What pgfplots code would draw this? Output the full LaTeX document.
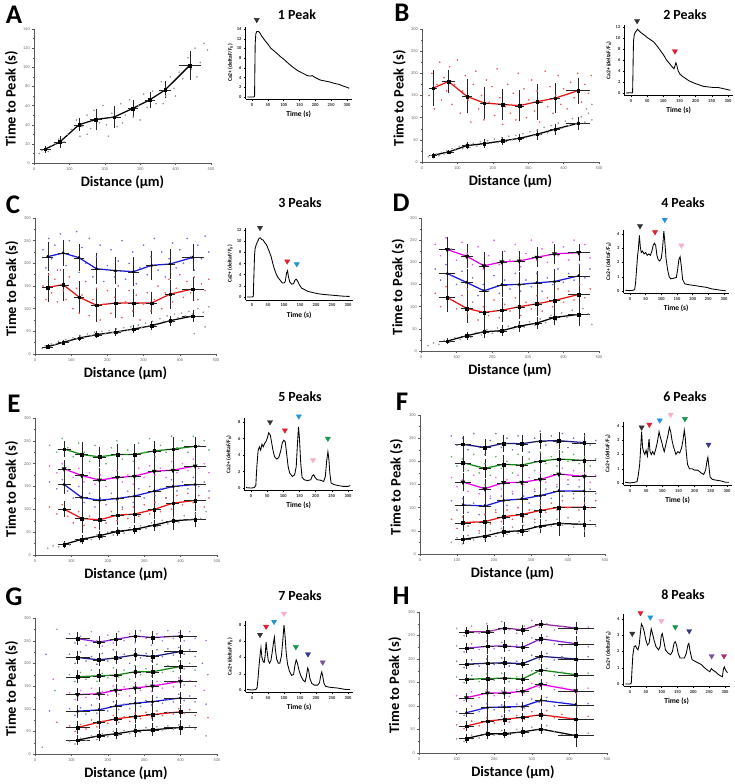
\documentclass[border=0pt]{standalone}
\usepackage{fontspec}
\setmainfont{Carlito}
\usepackage{pgfplots}
\pgfplotsset{compat=1.18}
\definecolor{cred}{RGB}{230,20,20}
\definecolor{cblue}{RGB}{25,25,215}
\definecolor{cmag}{RGB}{230,0,230}
\definecolor{cgreen}{RGB}{20,135,20}
\definecolor{cnavy}{RGB}{25,25,125}
\definecolor{cpurple}{RGB}{135,35,205}
\definecolor{cplum}{RGB}{140,40,150}
\definecolor{ablack}{RGB}{50,50,50}
\definecolor{ared}{RGB}{225,30,45}
\definecolor{ablue}{RGB}{30,150,215}
\definecolor{apink}{RGB}{245,175,200}
\definecolor{agreen}{RGB}{20,150,75}
\definecolor{anavy}{RGB}{55,55,135}
\definecolor{apurple}{RGB}{120,80,155}
\definecolor{amag}{RGB}{170,40,120}

\pgfplotsset{
  mainax/.style={scale only axis, anchor=south west, clip=false,
    xmin=0, xmax=500, ymin=0, ymax=300, xtick={0,100,...,500}, ytick={0,50,...,300},
    axis lines=left, axis line style={-, black!65, line width=0.45bp},
    minor x tick num=1, minor y tick num=1, tick align=outside,
    major tick length=1.6bp, minor tick length=0.9bp,
    tick style={black!65, line width=0.35bp},
    tick label style={font=\fontsize{4.3}{5}\selectfont, text=black!60},
    xticklabel style={yshift=0.8bp}, yticklabel style={xshift=0.8bp},
    /pgf/number format/assume math mode=true,
    xlabel={Distance (µm)}, ylabel={Time to Peak (s)},
    label style={font=\bfseries\fontsize{14.5}{16}\selectfont},
    xlabel style={at={(axis description cs:0.5,0)}, anchor=center, yshift=-19bp},
    ylabel style={at={(axis description cs:-0.128,0.48)}, anchor=center}},
  inset/.style={scale only axis, anchor=south west, clip=false,
    xmin=-20, xmax=315, xtick={0,50,...,300},
    axis lines=left, axis line style={-, black, line width=0.6bp},
    tick align=outside, major tick length=1.5bp,
    tick style={black, line width=0.4bp},
    tick label style={font=\bfseries\fontsize{4.5}{5}\selectfont, text=black!85},
    xticklabel style={yshift=0.8bp}, yticklabel style={xshift=0.8bp},
    /pgf/number format/assume math mode=true,
    xlabel={Time (s)}, ylabel={Ca2+ (deltaF/F\textsubscript{0})},
    xlabel style={font=\bfseries\fontsize{7.5}{8}\selectfont, at={(axis description cs:0.5,0)}, anchor=center, yshift=-15bp},
    ylabel style={font=\bfseries\fontsize{5.6}{6}\selectfont, at={(axis description cs:-0.145,0.5)}, anchor=center}},
  ms/.style={line width=1.25bp, mark=square*, mark size=1.3bp,
    mark options={solid, fill=black, draw=black, line width=0.3bp},
    error bars/y dir=both, error bars/y explicit,
    error bars/x dir=both, error bars/x explicit,
    error bars/error bar style={black!85, line width=0.28bp},
    error bars/error mark options={black!85, mark size=1.0bp, line width=0.28bp}},
  tri/.style={mark=triangle*, mark size=1.6bp},
  dtri/.style={mark=triangle*, mark size=1.6bp, mark options={solid, fill=black, draw=black, rotate=180}},
  sc/.style={only marks, mark=*, mark size=0.6bp, forget plot},
  trace/.style={black, line width=0.85bp},
  arr/.style={only marks, mark=triangle*, mark size=3bp, mark options={rotate=180, fill=#1, draw=#1}, forget plot}
}

\begin{document}
\begin{tikzpicture}
\path[use as bounding box] (0,0) rectangle (735bp,-784bp);

% ---------------- panel letters and titles
\begin{scope}[every node/.style={font=\bfseries\fontsize{27}{27}\selectfont}]
\node at (14bp,-15bp) {A};
\node at (402bp,-13bp) {B};
\node at (13bp,-205bp) {C};
\node at (401bp,-203bp) {D};
\node at (14bp,-404bp) {E};
\node at (402bp,-402bp) {F};
\node at (14bp,-597bp) {G};
\node at (401bp,-596bp) {H};
\end{scope}
\begin{scope}[every node/.style={font=\bfseries\fontsize{14}{14}\selectfont}]
\node at (297bp,-15bp) {1 Peak};
\node at (685bp,-15bp) {2 Peaks};
\node at (300bp,-203bp) {3 Peaks};
\node at (683bp,-203bp) {4 Peaks};
\node at (300bp,-397bp) {5 Peaks};
\node at (685bp,-397bp) {6 Peaks};
\node at (300bp,-596bp) {7 Peaks};
\node at (683bp,-595bp) {8 Peaks};
\end{scope}

% ================= A
\begin{axis}[mainax, at={(34bp,-163bp)}, width=177bp, height=134bp, ymax=140, ytick={0,20,...,140}]
\addplot[sc, black!40] coordinates {(15,10) (22,13) (40,12) (48,18) (60,20) (70,25) (85,22) (95,30) (105,35) (120,45) (135,38) (150,50) (160,36) (170,55) (185,42) (195,60) (205,40) (220,52) (235,38) (245,62) (258,50) (270,66) (280,48) (295,60) (310,72) (320,58) (335,75) (345,62) (360,85) (372,70) (385,90) (395,78) (410,95) (420,88) (435,110) (445,98) (455,120) (470,105) (480,125) (490,118) (210,28) (150,30) (300,45) (365,62) (130,28) (250,42) (400,70) (460,90)};
\addplot[black, ms] coordinates {(32,14.5) +- (12,2.5) (73,22) +- (14,5) (127,40) +- (12,6) (175,45.5) +- (14,9.5) (226,48) +- (16,10) (279,57) +- (12,8) (327,66) +- (12,7) (371,76.5) +- (14,8) (440,102) +- (28,14)};
\end{axis}
\begin{axis}[inset, at={(245.7bp,-99.4bp)}, width=106bp, height=72.8bp, ymin=-0.5, ymax=14.5, ytick={0,2,...,14}]
\addplot[trace] coordinates {(-15,0) (0,0) (5,0) (8,0.1) (9,6) (10,11) (12,13) (15,13.5) (20,13.5) (25,13.2) (30,12.6) (40,11.7) (50,10.9) (60,10.0) (75,9.2) (90,8.3) (100,7.8) (115,6.9) (130,6.1) (145,5.4) (160,4.9) (175,4.4) (185,4.3) (190,4.4) (200,4.0) (215,3.5) (230,3.3) (245,3.1) (260,2.8) (275,2.6) (290,2.2) (300,2.0) (307,1.8)};
\addplot[arr=ablack] coordinates {(15,15.9)};
\end{axis}

% ================= B
\begin{axis}[mainax, at={(422bp,-162bp)}, width=177bp, height=133bp]
\addplot[sc, cred!70] coordinates {(20,150) (28,200) (35,120) (42,175) (50,225) (55,140) (62,190) (70,160) (78,215) (85,130) (92,175) (100,230) (108,110) (115,160) (122,195) (130,140) (138,90) (145,175) (152,205) (160,120) (168,150) (175,95) (182,185) (190,135) (198,170) (205,105) (212,210) (220,145) (228,85) (235,125) (242,175) (250,110) (258,155) (265,95) (272,200) (280,130) (288,165) (295,100) (302,140) (310,185) (318,115) (325,160) (332,90) (340,135) (348,205) (355,125) (362,170) (370,110) (378,150) (385,195) (392,130) (400,165) (410,120) (420,180) (430,145) (440,200) (450,135) (460,175) (470,155) (478,195)};
\addplot[sc, black!40] coordinates {(18,12) (25,15) (32,10) (40,18) (48,14) (55,22) (62,18) (70,25) (78,20) (85,30) (95,27) (105,35) (115,30) (125,40) (135,33) (145,42) (155,36) (165,46) (175,38) (185,48) (195,42) (205,52) (215,44) (225,55) (235,47) (245,58) (255,50) (265,60) (275,52) (285,64) (295,55) (305,68) (315,60) (325,72) (335,62) (345,78) (355,66) (365,82) (375,70) (385,88) (395,76) (405,92) (415,82) (425,98) (435,85) (450,102) (460,90) (470,110) (480,95) (465,120) (480,130)};
\addplot[cred, ms] coordinates {(31,166.5) +- (8,38) (75,181.6) +- (15,24) (127,148) +- (10,36) (176,133) +- (10,33) (227,130) +- (10,32) (275,127) +- (10,33) (325,136) +- (10,38) (376,144) +- (12,31) (441,161) +- (30,27)};
\addplot[black, ms] coordinates {(31,15) +- (8,3) (75,22.6) +- (12,3) (127,37) +- (10,6) (176,41.5) +- (10,7) (227,47.5) +- (10,7) (275,53.5) +- (10,7) (325,62.5) +- (10,10) (376,74) +- (12,10) (441,87.4) +- (30,12)};
\end{axis}
\begin{axis}[inset, at={(624.5bp,-95.75bp)}, width=108.3bp, height=70.4bp, ymin=-0.5, ymax=12.3, ytick={0,2,...,12}]
\addplot[trace] coordinates {(-15,0) (0,0.05) (3,0) (5,0.1) (6,3) (7,7) (8,9.5) (10,10.5) (13,11) (17,11.3) (20,11.6) (25,11.3) (30,11.0) (40,10.6) (50,10.1) (60,9.7) (70,9.3) (80,8.6) (90,7.8) (100,7.0) (110,6.0) (120,5.3) (128,4.7) (133,4.4) (136,4.9) (139,5.5) (142,5.0) (146,4.0) (152,3.4) (160,3.0) (170,2.6) (180,2.2) (195,1.8) (210,1.5) (225,1.2) (240,1.1) (255,1.0) (270,1.0) (285,0.8) (300,0.6) (308,0.5)};
\addplot[arr=ablack] coordinates {(19,13.1)};
\addplot[arr=ared] coordinates {(136,7.6)};
\end{axis}

% ================= C
\begin{axis}[mainax, at={(35bp,-354bp)}, width=181bp, height=136bp]
\addplot[sc, cblue!65] coordinates {(22,230) (30,190) (38,255) (46,210) (55,240) (62,185) (70,265) (78,225) (86,195) (95,250) (105,215) (115,270) (122,180) (130,235) (140,200) (150,255) (160,170) (170,215) (180,240) (190,160) (200,195) (210,230) (220,170) (230,205) (240,250) (250,165) (260,200) (270,225) (280,155) (290,190) (300,240) (310,175) (320,215) (330,255) (340,185) (350,225) (360,170) (370,210) (380,245) (390,190) (400,230) (410,200) (420,255) (430,215) (440,185) (450,240) (460,210) (470,260) (480,225)};
\addplot[sc, cred!70] coordinates {(22,150) (30,120) (38,175) (46,135) (55,165) (62,115) (70,185) (78,140) (86,120) (95,170) (105,100) (115,145) (122,90) (130,130) (140,160) (150,85) (160,120) (170,145) (180,75) (190,110) (200,140) (210,90) (220,125) (230,150) (240,80) (250,115) (260,140) (270,95) (280,130) (290,75) (300,110) (310,135) (320,95) (330,120) (340,150) (350,100) (360,135) (370,165) (380,115) (390,145) (400,175) (410,125) (420,160) (430,135) (440,170) (450,120) (460,155) (470,140) (480,165)};
\addplot[sc, black!40] coordinates {(20,12) (28,18) (36,14) (45,22) (55,20) (65,28) (75,24) (85,32) (95,28) (105,36) (115,33) (125,40) (135,36) (145,44) (155,40) (165,48) (175,42) (185,50) (195,45) (205,52) (215,47) (225,55) (235,50) (245,58) (255,53) (265,60) (275,56) (285,64) (295,59) (305,68) (315,63) (325,72) (335,67) (345,78) (355,72) (365,84) (375,76) (385,88) (395,80) (405,90) (415,84) (425,94) (435,88) (450,100) (465,92) (480,104) (470,60) (440,45)};
\addplot[cblue, ms, tri] coordinates {(35,214.7) +- (12,30) (78,222.8) +- (12,27) (121.5,212.5) +- (12,27) (170,188) +- (12,32) (222,184) +- (12,28) (272,181.6) +- (12,30) (322,195.6) +- (12,30) (373,198.5) +- (12,30) (435.5,213) +- (28,27)};
\addplot[cred, ms] coordinates {(35,147) +- (12,30) (78,153) +- (12,33) (121.5,125.7) +- (12,33) (170,107.4) +- (12,35) (222,112.5) +- (12,30) (272,112.5) +- (12,28) (322,112.5) +- (12,23) (373,132) +- (12,30) (435.5,143.4) +- (28,24)};
\addplot[black, ms] coordinates {(35,16) +- (12,3) (78,25.7) +- (12,4) (121.5,35.3) +- (12,5) (170,42.6) +- (12,6) (222,48.5) +- (12,6) (272,55) +- (12,7) (322,62.5) +- (12,8) (373,73.5) +- (12,9) (435.5,83.8) +- (28,11)};
\end{axis}
\begin{axis}[inset, at={(245.6bp,-299.8bp)}, width=107.2bp, height=71.5bp, ymin=-0.5, ymax=12.3, ytick={0,2,...,12}]
\addplot[trace] coordinates {(-15,0) (0,0) (4,0.1) (6,4) (8,7.5) (10,8.8) (14,9.5) (18,10) (22,10.5) (26,10.6) (30,10.3) (35,10.2) (40,9.7) (45,9.4) (50,8.7) (55,8.0) (60,7.2) (65,6.0) (70,5.0) (75,4.2) (80,3.6) (88,3.0) (95,2.5) (100,2.5) (104,2.8) (108,4.3) (111,4.7) (114,3.6) (118,2.7) (124,2.3) (130,2.4) (134,3.0) (138,3.2) (142,2.9) (148,2.2) (155,1.6) (165,1.3) (175,1.0) (190,0.8) (205,0.6) (225,0.45) (245,0.35) (265,0.25) (285,0.15) (305,0.1)};
\addplot[arr=ablack] coordinates {(25,12.4)};
\addplot[arr=ared] coordinates {(110,6.4)};
\addplot[arr=ablue] coordinates {(140,5.9)};
\end{axis}

% ================= D
\begin{axis}[mainax, at={(421bp,-351bp)}, width=178bp, height=133bp]
\addplot[sc, cmag!65] coordinates {(40,240) (55,215) (70,255) (85,230) (100,205) (115,245) (130,220) (145,195) (160,235) (175,185) (190,215) (205,250) (220,195) (235,225) (250,205) (265,240) (280,190) (295,220) (310,250) (325,205) (340,230) (355,200) (370,245) (385,215) (400,235) (415,205) (430,250) (445,220) (460,240) (475,210)};
\addplot[sc, cblue!65] coordinates {(40,185) (55,160) (70,195) (85,170) (100,150) (115,180) (130,140) (145,165) (160,125) (175,150) (190,135) (205,170) (220,130) (235,160) (250,140) (265,175) (280,135) (295,160) (310,145) (325,175) (340,135) (355,165) (370,150) (385,185) (400,155) (415,175) (430,160) (445,195) (460,165) (475,185)};
\addplot[sc, cred!70] coordinates {(40,130) (55,100) (70,145) (85,115) (100,95) (115,125) (130,85) (145,110) (160,70) (175,100) (190,80) (205,115) (220,75) (235,105) (250,90) (265,120) (280,80) (295,110) (310,95) (325,125) (340,90) (355,120) (370,100) (385,140) (400,110) (415,135) (430,115) (445,150) (460,120) (475,140)};
\addplot[sc, black!40] coordinates {(20,12) (35,18) (50,15) (65,24) (80,20) (95,30) (110,26) (125,36) (140,30) (155,42) (170,36) (185,48) (200,40) (215,52) (230,44) (245,56) (260,50) (275,60) (290,54) (305,66) (320,58) (335,72) (350,64) (365,80) (380,70) (395,86) (410,76) (425,92) (440,80) (455,96) (470,84) (480,60)};
\addplot[cmag, ms, dtri] coordinates {(74,228.8) +- (20,27) (128.5,213.8) +- (14,25) (177,192) +- (12,28) (227,201) +- (12,22) (276,203) +- (12,20) (325.5,211.5) +- (12,20) (375,219) +- (14,20) (443,222) +- (28,17)};
\addplot[cblue, ms, tri] coordinates {(74,174.8) +- (20,30) (128.5,154.5) +- (14,28) (177,135.8) +- (12,30) (227,149.3) +- (12,25) (276,150) +- (12,25) (325.5,153.8) +- (12,25) (375,156.8) +- (14,25) (443,169.5) +- (28,22)};
\addplot[cred, ms] coordinates {(74,120.8) +- (20,30) (128.5,96) +- (14,30) (177,87) +- (12,30) (227,92) +- (12,25) (276,99.8) +- (12,25) (325.5,106.5) +- (12,25) (375,114) +- (14,25) (443,127.5) +- (28,22)};
\addplot[black, ms] coordinates {(74,22.5) +- (20,5) (128.5,34.5) +- (14,7) (177,43.5) +- (12,12) (227,45.8) +- (12,10) (276,56) +- (12,10) (325.5,63) +- (12,12) (375,75.8) +- (14,16) (443,82.5) +- (28,23)};
\end{axis}
\begin{axis}[inset, at={(623.7bp,-293.1bp)}, width=105bp, height=63.4bp, ymin=-0.15, ymax=4.3, ytick={0,1,...,4}]
\addplot[trace] coordinates {(-15,0.05) (0,0.02) (10,0.05) (15,0.1) (18,0.6) (21,1.5) (24,2.4) (27,3.0) (30,3.9) (33,3.1) (36,2.7) (40,2.8) (45,2.6) (50,2.7) (55,2.5) (60,2.6) (65,2.5) (70,2.8) (74,3.2) (78,3.35) (82,3.2) (86,2.5) (90,2.2) (95,2.1) (100,2.3) (104,3.0) (108,4.2) (111,3.5) (115,2.3) (120,1.5) (125,1.0) (130,0.85) (140,0.9) (148,0.95) (152,1.5) (156,2.2) (160,2.4) (164,1.7) (168,0.8) (175,0.5) (185,0.45) (200,0.4) (215,0.35) (230,0.3) (245,0.25) (260,0.15) (275,0.1) (290,0.05) (305,0.02)};
\addplot[arr=ablack] coordinates {(32,4.56)};
\addplot[arr=ared] coordinates {(80,4.14)};
\addplot[arr=ablue] coordinates {(111,5.0)};
\addplot[arr=apink] coordinates {(164,3.2)};
\end{axis}

% ================= E
\begin{axis}[mainax, at={(35bp,-555bp)}, width=182bp, height=137bp]
\addplot[sc, cgreen!65] coordinates {(40,240) (60,225) (75,255) (90,235) (105,215) (120,245) (135,225) (150,205) (165,240) (180,215) (195,200) (210,235) (225,250) (240,210) (255,230) (270,205) (285,245) (300,225) (315,255) (330,215) (345,240) (360,225) (375,260) (390,235) (405,250) (420,225) (435,260) (450,240) (465,250) (478,230)};
\addplot[sc, cmag!60] coordinates {(40,195) (60,180) (75,200) (90,185) (105,170) (120,190) (135,160) (150,180) (165,155) (180,175) (195,150) (210,170) (225,185) (240,160) (255,175) (270,155) (285,190) (300,170) (315,195) (330,175) (345,190) (360,170) (375,205) (390,180) (405,200) (420,185) (435,210) (450,190) (465,200) (478,180)};
\addplot[sc, cblue!60] coordinates {(40,160) (60,145) (75,165) (90,140) (105,125) (120,150) (135,115) (150,135) (165,105) (180,125) (195,110) (210,135) (225,120) (240,105) (255,140) (270,115) (285,145) (300,125) (315,150) (330,130) (345,145) (360,125) (375,165) (390,140) (405,160) (420,145) (435,170) (450,150) (465,160) (478,140)};
\addplot[sc, cred!70] coordinates {(40,105) (60,90) (75,110) (90,85) (105,70) (120,95) (135,65) (150,85) (165,60) (180,80) (195,70) (210,95) (225,75) (240,100) (255,80) (270,105) (285,85) (300,110) (315,90) (330,115) (345,95) (360,125) (375,100) (390,130) (405,110) (420,135) (435,115) (450,130) (465,105) (478,125)};
\addplot[sc, black!40] coordinates {(35,15) (50,20) (65,18) (80,26) (95,22) (110,32) (125,28) (140,38) (155,34) (170,44) (185,38) (200,50) (215,44) (230,55) (245,48) (260,60) (275,52) (290,64) (305,58) (320,70) (335,62) (350,76) (365,68) (380,82) (395,72) (410,86) (425,76) (440,90) (455,80) (470,95)};
\addplot[cgreen, ms] coordinates {(80,232) +- (15,15) (128.4,220) +- (15,25) (177,215) +- (15,20) (226.6,220) +- (15,20) (273,220) +- (15,20) (327.5,228) +- (15,20) (379,232) +- (15,25) (440,238) +- (28,18)};
\addplot[cmag, ms, dtri] coordinates {(80,188.6) +- (15,18) (128.4,174) +- (15,30) (177,164) +- (15,25) (226.6,169.7) +- (15,25) (273,172.6) +- (15,25) (327.5,183.5) +- (15,22) (379,185.7) +- (15,25) (440,195) +- (28,20)};
\addplot[cblue, ms, tri] coordinates {(80,154.4) +- (15,18) (128.4,126) +- (15,30) (177,120) +- (15,25) (226.6,123.8) +- (15,25) (273,129) +- (15,25) (327.5,140) +- (15,22) (379,150) +- (15,25) (440,154.4) +- (28,20)};
\addplot[cred, ms] coordinates {(80,100.5) +- (15,15) (128.4,80) +- (15,30) (177,77) +- (15,20) (226.6,87.4) +- (15,20) (273,89.6) +- (15,18) (327.5,99.8) +- (15,18) (379,113.6) +- (15,25) (440,119.4) +- (28,20)};
\addplot[black, ms] coordinates {(80,23.3) +- (15,5) (128.4,34.2) +- (15,8) (177,42.2) +- (15,8) (226.6,51.7) +- (15,8) (273,56) +- (15,8) (327.5,65.5) +- (15,10) (379,75) +- (15,18) (440,78) +- (28,15)};
\end{axis}
\begin{axis}[inset, at={(244.5bp,-490.5bp)}, width=108.3bp, height=72.6bp, ymin=-0.3, ymax=8.5, ytick={0,2,...,8}]
\addplot[trace] coordinates {(-15,0.05) (0,0) (10,0.05) (15,0.3) (18,2.5) (22,4.5) (26,5.0) (30,4.6) (34,5.3) (38,5.0) (42,5.4) (46,5.6) (50,6.0) (55,6.7) (60,6.4) (64,5.5) (68,4.6) (73,3.8) (80,3.5) (86,3.7) (92,4.5) (97,5.5) (102,5.8) (106,5.6) (110,4.3) (115,2.6) (120,1.8) (128,1.4) (135,1.6) (140,2.6) (144,5.5) (147,7.4) (150,6.0) (154,3.0) (158,1.3) (165,1.0) (175,0.9) (185,1.0) (190,1.5) (194,1.6) (198,1.3) (205,1.0) (215,0.95) (225,0.8) (230,1.4) (234,3.2) (238,4.4) (241,3.5) (244,1.8) (248,0.6) (258,0.4) (270,0.3) (285,0.2) (300,0.2) (307,0.3)};
\addplot[arr=ablack] coordinates {(59,8.0)};
\addplot[arr=ared] coordinates {(105,7.0)};
\addplot[arr=ablue] coordinates {(148,8.7)};
\addplot[arr=apink] coordinates {(192,3.4)};
\addplot[arr=agreen] coordinates {(238,6.0)};
\end{axis}

% ================= F
\begin{axis}[mainax, at={(420bp,-554bp)}, width=185bp, height=139bp]
\addplot[sc, cnavy!60] coordinates {(85,255) (100,235) (115,250) (130,225) (145,260) (160,230) (175,215) (190,245) (205,260) (220,230) (235,250) (250,225) (265,255) (280,240) (295,220) (310,250) (325,265) (340,235) (355,255) (370,240) (385,260) (400,230) (415,250) (430,240) (445,255) (460,235) (475,245)};
\addplot[sc, cgreen!65] coordinates {(85,210) (100,190) (115,205) (130,180) (145,215) (160,175) (175,195) (190,170) (205,210) (220,185) (235,200) (250,175) (265,215) (280,190) (295,205) (310,180) (325,220) (340,195) (355,210) (370,190) (385,220) (400,200) (415,215) (430,195) (445,210) (460,190) (475,205)};
\addplot[sc, cmag!60] coordinates {(85,165) (100,145) (115,160) (130,135) (145,170) (160,130) (175,150) (190,125) (205,165) (220,140) (235,160) (250,135) (265,170) (280,150) (295,165) (310,140) (325,175) (340,155) (355,170) (370,150) (385,185) (400,160) (415,180) (430,160) (445,175) (460,155) (475,170)};
\addplot[sc, cblue!60] coordinates {(85,115) (100,95) (115,120) (130,90) (145,110) (160,85) (175,105) (190,120) (205,95) (220,125) (235,105) (250,130) (265,100) (280,125) (295,110) (310,135) (325,115) (340,140) (355,120) (370,145) (385,125) (400,150) (415,130) (430,145) (445,125) (460,140) (475,130)};
\addplot[sc, cred!70] coordinates {(85,75) (100,55) (115,80) (130,60) (145,70) (160,50) (175,85) (190,65) (205,90) (220,70) (235,95) (250,75) (265,100) (280,80) (295,95) (310,75) (325,105) (340,90) (355,110) (370,95) (385,115) (400,100) (415,120) (430,95) (445,110) (460,100) (475,115)};
\addplot[sc, black!40] coordinates {(85,25) (100,35) (115,22) (130,40) (145,30) (160,45) (175,32) (190,50) (205,38) (220,55) (235,42) (250,58) (265,45) (280,62) (295,50) (310,68) (325,55) (340,72) (355,60) (370,75) (385,62) (400,78) (415,58) (430,70) (445,50) (460,72) (475,60)};
\addplot[cnavy, ms] coordinates {(116,236.7) +- (18,16) (175,230) +- (14,16) (226,238.8) +- (14,16) (275,238) +- (14,16) (325,243.9) +- (14,16) (375,244.6) +- (14,16) (444,240.3) +- (30,18)};
\addplot[cgreen, ms] coordinates {(116,197) +- (18,18) (175,185) +- (14,18) (226,193.5) +- (14,18) (275,192) +- (14,18) (325,200.7) +- (14,18) (375,205) +- (14,18) (444,202) +- (30,18)};
\addplot[cmag, ms, dtri] coordinates {(116,155.4) +- (18,18) (175,141) +- (14,18) (226,154) +- (14,18) (275,154.7) +- (14,18) (325,161) +- (14,18) (375,172.7) +- (14,18) (444,167.6) +- (30,18)};
\addplot[cblue, ms, tri] coordinates {(116,105.8) +- (18,18) (175,103.6) +- (14,18) (226,115.8) +- (14,18) (275,118.7) +- (14,18) (325,126) +- (14,18) (375,136) +- (14,18) (444,136) +- (30,18)};
\addplot[cred, ms] coordinates {(116,67.6) +- (18,15) (175,69.8) +- (14,15) (226,80.6) +- (14,15) (275,85) +- (14,15) (325,94) +- (14,15) (375,100.7) +- (14,15) (444,100.7) +- (30,15)};
\addplot[black, ms] coordinates {(116,31.7) +- (18,8) (175,38.8) +- (14,10) (226,48.2) +- (14,10) (275,50.4) +- (14,10) (325,60.4) +- (14,12) (375,66) +- (14,25) (444,64) +- (30,25)};
\end{axis}
\begin{axis}[inset, at={(623.5bp,-485.1bp)}, width=108.3bp, height=63.4bp, ymin=-0.15, ymax=4.3, ytick={0,1,...,4}]
\addplot[trace] coordinates {(-15,0.05) (0,0) (15,0.05) (22,0.1) (26,0.6) (30,1.3) (33,2.4) (36,3.6) (39,2.5) (42,2.2) (46,2.0) (50,2.3) (54,1.9) (57,2.6) (59,3.1) (62,2.2) (66,2.0) (70,2.2) (75,2.0) (80,2.4) (85,2.9) (90,3.6) (94,3.2) (98,2.9) (102,2.5) (106,2.2) (110,2.6) (114,3.0) (118,3.4) (122,3.9) (126,3.6) (130,3.0) (134,2.6) (138,2.3) (142,2.0) (148,2.2) (154,2.1) (160,2.5) (164,3.0) (168,3.7) (171,3.2) (174,2.2) (178,1.3) (184,1.0) (192,1.0) (200,0.9) (210,0.9) (220,0.7) (228,0.6) (234,0.9) (238,1.5) (241,1.8) (244,1.2) (248,0.4) (255,0.25) (265,0.2) (280,0.15) (295,0.05) (307,0.05)};
\addplot[arr=ablack] coordinates {(36,3.9)};
\addplot[arr=ared] coordinates {(60,4.1)};
\addplot[arr=ablue] coordinates {(92,4.4)};
\addplot[arr=apink] coordinates {(126,4.8)};
\addplot[arr=agreen] coordinates {(170,4.5)};
\addplot[arr=anavy] coordinates {(243,2.7)};
\end{axis}

% ================= G
\begin{axis}[mainax, at={(35bp,-754bp)}, width=182bp, height=136bp]
\addplot[sc, cpurple!60] coordinates {(95,265) (110,245) (125,260) (140,240) (155,270) (170,250) (185,238) (200,262) (215,245) (230,270) (245,250) (260,265) (275,245) (290,272) (305,255) (320,240) (335,265) (350,250) (365,272) (380,255) (395,268) (410,250) (425,270) (440,255) (60,275) (470,250)};
\addplot[sc, cnavy!60] coordinates {(95,220) (110,200) (125,225) (140,205) (155,215) (170,198) (185,222) (200,205) (215,230) (230,210) (245,220) (260,200) (275,228) (290,212) (305,222) (320,205) (335,230) (350,215) (365,232) (380,218) (395,235) (410,220) (425,230) (440,215) (30,220) (460,200)};
\addplot[sc, cgreen!65] coordinates {(95,175) (110,160) (125,180) (140,165) (155,185) (170,160) (185,178) (200,168) (215,190) (230,170) (245,185) (260,165) (275,195) (290,175) (305,188) (320,172) (335,198) (350,180) (365,195) (380,182) (395,205) (410,188) (425,200) (440,185) (55,140) (475,175)};
\addplot[sc, cmag!60] coordinates {(95,135) (110,120) (125,140) (140,125) (155,145) (170,122) (185,138) (200,130) (215,150) (230,132) (245,148) (260,128) (275,155) (290,140) (305,152) (320,138) (335,160) (350,145) (365,158) (380,148) (395,168) (410,152) (425,162) (440,150) (50,165) (465,140)};
\addplot[sc, cblue!60] coordinates {(95,100) (110,85) (125,102) (140,88) (155,108) (170,90) (185,100) (200,95) (215,115) (230,98) (245,110) (260,100) (275,120) (290,105) (305,118) (320,108) (335,125) (350,112) (365,120) (380,115) (395,132) (410,118) (425,128) (440,115) (40,95) (470,110)};
\addplot[sc, cred!70] coordinates {(95,62) (110,50) (125,65) (140,55) (155,75) (170,60) (185,72) (200,68) (215,85) (230,70) (245,82) (260,72) (275,90) (290,78) (305,92) (320,80) (335,95) (350,85) (365,92) (380,88) (395,100) (410,90) (425,98) (440,85) (60,70) (475,80)};
\addplot[sc, black!40] coordinates {(95,28) (110,22) (125,35) (140,30) (155,40) (170,32) (185,45) (200,38) (215,50) (230,42) (245,52) (260,45) (275,56) (290,48) (305,58) (320,50) (335,60) (350,52) (365,62) (380,55) (395,64) (410,58) (425,62) (440,55) (20,15) (470,40)};
\addplot[cpurple, ms] coordinates {(117,254.6) +- (30,12) (175.5,247) +- (14,12) (222,253) +- (14,12) (275,260.4) +- (14,12) (322.7,256.8) +- (14,12) (399.5,260.4) +- (42,12)};
\addplot[cnavy, ms] coordinates {(117,212.9) +- (30,12) (175.5,207.8) +- (14,12) (222,212) +- (14,12) (275,218.7) +- (14,12) (322.7,215) +- (14,12) (399.5,226) +- (42,12)};
\addplot[cgreen, ms] coordinates {(117,170.4) +- (30,12) (175.5,172.6) +- (14,12) (222,174) +- (14,12) (275,181.4) +- (14,12) (322.7,181.4) +- (14,12) (399.5,193) +- (42,12)};
\addplot[cmag, ms, dtri] coordinates {(117,131) +- (30,12) (175.5,133) +- (14,12) (222,140.5) +- (14,12) (275,145.6) +- (14,12) (322.7,150) +- (14,12) (399.5,160.2) +- (42,12)};
\addplot[cblue, ms, tri] coordinates {(117,94.4) +- (30,12) (175.5,97.3) +- (14,12) (222,106) +- (14,12) (275,112) +- (14,12) (322.7,115.6) +- (14,12) (399.5,123.6) +- (42,12)};
\addplot[cred, ms] coordinates {(117,58.5) +- (30,12) (175.5,70) +- (14,12) (222,77.5) +- (14,12) (275,82.7) +- (14,12) (322.7,87) +- (14,12) (399.5,93) +- (42,12)};
\addplot[black, ms] coordinates {(117,30.7) +- (30,8) (175.5,40.2) +- (14,10) (222,44.6) +- (14,10) (275,51.2) +- (14,12) (322.7,53.4) +- (14,12) (399.5,58.5) +- (42,14)};
\end{axis}
\begin{axis}[inset, at={(245.6bp,-692.4bp)}, width=107.2bp, height=71.5bp, ymin=-0.3, ymax=8.5, ytick={0,2,...,8}]
\addplot[trace] coordinates {(-15,0.05) (0,0) (12,0.05) (16,0.3) (19,1.5) (22,3.0) (25,4.2) (28,5.2) (31,4.0) (35,3.5) (38,3.4) (41,4.2) (44,5.9) (47,4.8) (51,3.6) (55,3.3) (59,3.6) (63,4.6) (67,5.8) (70,6.5) (73,5.0) (77,3.8) (82,3.3) (87,3.3) (92,4.2) (96,6.0) (100,8.0) (103,6.8) (107,4.5) (111,3.2) (117,2.3) (124,1.8) (130,1.9) (134,3.0) (138,3.7) (142,3.3) (147,2.4) (153,1.7) (160,1.2) (166,1.0) (170,1.7) (174,2.7) (177,2.4) (181,1.4) (187,0.8) (195,0.6) (205,0.6) (211,0.9) (215,1.8) (218,2.2) (221,1.7) (225,0.8) (230,0.45) (240,0.35) (250,0.3) (265,0.25) (280,0.15) (295,0.05) (307,0.05)};
\addplot[arr=ablack] coordinates {(25,6.8)};
\addplot[arr=ared] coordinates {(44,7.8)};
\addplot[arr=ablue] coordinates {(69,8.4)};
\addplot[arr=apink] coordinates {(100,9.4)};
\addplot[arr=agreen] coordinates {(137,5.3)};
\addplot[arr=anavy] coordinates {(175,4.4)};
\addplot[arr=apurple] coordinates {(221,3.4)};
\end{axis}

% ================= H
\begin{axis}[mainax, at={(419bp,-753bp)}, width=188bp, height=141bp]
\addplot[sc, cplum!60] coordinates {(100,265) (120,250) (140,270) (160,255) (180,275) (200,260) (220,280) (240,262) (260,255) (280,270) (300,282) (320,268) (340,275) (360,262) (380,270) (420,260) (450,268)};
\addplot[sc, cpurple!60] coordinates {(100,228) (120,215) (140,232) (160,220) (180,238) (200,222) (220,235) (240,218) (260,230) (280,225) (300,245) (320,238) (340,248) (360,232) (380,228) (420,238) (450,226)};
\addplot[sc, cnavy!60] coordinates {(100,195) (120,182) (140,198) (160,185) (180,200) (200,188) (220,202) (240,185) (260,195) (280,192) (300,208) (320,200) (340,212) (360,198) (380,205) (420,195) (450,205)};
\addplot[sc, cgreen!65] coordinates {(100,162) (120,150) (140,165) (160,152) (180,168) (200,155) (220,170) (240,152) (260,162) (280,158) (300,175) (320,168) (340,180) (360,165) (380,172) (420,160) (450,170)};
\addplot[sc, cmag!60] coordinates {(100,122) (120,112) (140,130) (160,118) (180,135) (200,122) (220,132) (240,120) (260,135) (280,128) (300,148) (320,140) (340,150) (360,135) (380,140) (420,128) (450,138)};
\addplot[sc, cblue!60] coordinates {(100,88) (120,80) (140,100) (160,88) (180,105) (200,92) (220,102) (240,90) (260,104) (280,96) (300,115) (320,108) (340,118) (360,100) (380,108) (420,98) (450,105)};
\addplot[sc, cred!70] coordinates {(100,60) (120,52) (140,68) (160,58) (180,75) (200,64) (220,78) (240,66) (260,80) (280,72) (300,88) (320,80) (340,90) (360,75) (380,82) (420,70) (450,78)};
\addplot[sc, black!40] coordinates {(100,30) (120,25) (140,38) (160,32) (180,45) (200,38) (220,48) (240,40) (260,50) (280,44) (300,55) (320,48) (340,58) (360,45) (380,40) (420,35) (450,42)};
\addplot[cplum, ms] coordinates {(126,258) +- (18,8) (182,258) +- (14,12) (227,266) +- (14,10) (275,262) +- (14,8) (324,274.5) +- (14,6) (417,266) +- (45,10)};
\addplot[cpurple, ms] coordinates {(126,223) +- (18,8) (182,227) +- (14,15) (227,228) +- (14,10) (275,225) +- (14,8) (324,243) +- (14,8) (417,232.6) +- (45,15)};
\addplot[cnavy, ms] coordinates {(126,189) +- (18,8) (182,191) +- (14,15) (227,192) +- (14,10) (275,190) +- (14,8) (324,205.7) +- (14,10) (417,200) +- (45,15)};
\addplot[cgreen, ms] coordinates {(126,157.4) +- (18,8) (182,158) +- (14,15) (227,159.6) +- (14,10) (275,157.4) +- (14,8) (324,176.6) +- (14,10) (417,166.7) +- (45,15)};
\addplot[cmag, ms, dtri] coordinates {(126,117.7) +- (18,8) (182,127.7) +- (14,15) (227,127.7) +- (14,10) (275,131) +- (14,8) (324,146) +- (14,10) (417,132.6) +- (45,15)};
\addplot[cblue, ms, tri] coordinates {(126,85.8) +- (18,8) (182,97) +- (14,15) (227,98) +- (14,10) (275,99) +- (14,8) (324,112) +- (14,10) (417,102.8) +- (45,15)};
\addplot[cred, ms] coordinates {(126,57.4) +- (18,8) (182,68) +- (14,15) (227,71.6) +- (14,10) (275,76) +- (14,8) (324,81.5) +- (14,10) (417,72) +- (45,15)};
\addplot[black, ms] coordinates {(126,31) +- (18,8) (182,41) +- (14,10) (227,41) +- (14,8) (275,45) +- (14,8) (324,51) +- (14,8) (417,37) +- (45,22)};
\end{axis}
\begin{axis}[inset, at={(623.7bp,-686.4bp)}, width=106bp, height=72.3bp, ymin=-0.15, ymax=4.3, ytick={0,1,...,4}]
\addplot[trace] coordinates {(-15,0) (0,0) (4,0.05) (6,0.8) (9,1.8) (13,2.3) (17,2.35) (21,2.2) (25,2.1) (29,2.4) (33,3.2) (36,3.7) (40,3.55) (45,3.2) (50,2.7) (55,2.4) (60,2.5) (64,3.0) (67,3.4) (71,3.1) (76,2.7) (82,2.3) (90,2.1) (95,2.3) (99,3.0) (102,3.1) (106,2.7) (112,2.1) (120,1.9) (128,1.8) (134,2.0) (139,2.5) (143,2.6) (147,2.4) (152,1.9) (158,1.6) (166,1.6) (172,1.6) (178,1.9) (183,2.4) (186,2.5) (190,2.0) (196,1.5) (205,1.4) (215,1.3) (225,1.2) (235,1.0) (245,0.85) (252,0.75) (257,0.95) (262,0.85) (270,0.75) (278,0.6) (286,0.5) (292,0.45) (295,0.9) (298,1.05) (302,0.85) (308,0.7)};
\addplot[arr=ablack] coordinates {(7,3.1)};
\addplot[arr=ared] coordinates {(33,4.37)};
\addplot[arr=ablue] coordinates {(64,4.1)};
\addplot[arr=apink] coordinates {(99,3.88)};
\addplot[arr=agreen] coordinates {(143,3.5)};
\addplot[arr=anavy] coordinates {(187,3.26)};
\addplot[arr=apurple] coordinates {(258,1.72)};
\addplot[arr=amag] coordinates {(297,1.72)};
\end{axis}
\end{tikzpicture}
\end{document}
